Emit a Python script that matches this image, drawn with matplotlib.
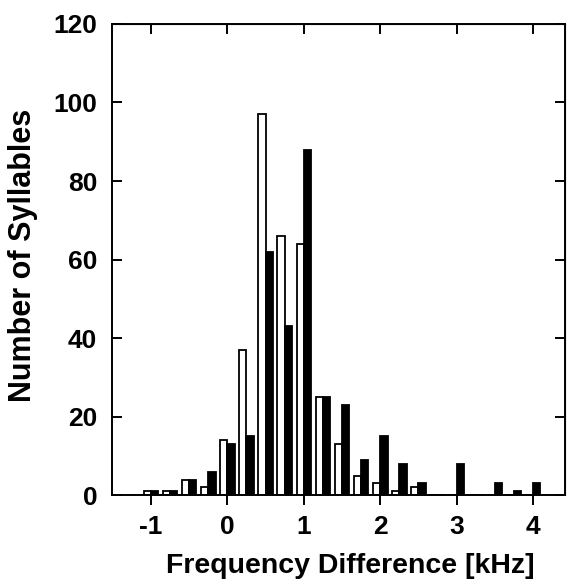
import matplotlib
matplotlib.use("Agg")
import matplotlib.pyplot as plt
import numpy as np

bins = [-1.0, -0.75, -0.5, -0.25, 0.0, 0.25, 0.5, 0.75, 1.0, 1.25, 1.5, 1.75,
        2.0, 2.25, 2.5, 2.75, 3.0, 3.25, 3.5, 3.75, 4.0]
white_counts = [1, 1, 4, 2, 14, 37, 97, 66, 64, 25, 13, 5, 3, 1, 2, 0, 0, 0, 0, 0, 0]
black_counts = [1, 1, 4, 6, 13, 15, 62, 43, 88, 25, 23, 9, 15, 8, 3, 0, 8, 0, 3, 1, 3]
xticks = [-1, 0, 1, 2, 3, 4]
yticks = [0, 20, 40, 60, 80, 100, 120]

plt.rcParams['font.family'] = ['Liberation Sans', 'DejaVu Sans']
plt.rcParams['font.weight'] = 'bold'

fig = plt.figure(figsize=(5.71, 5.84), dpi=100)
ax = fig.add_axes([0.196, 0.152, 0.794, 0.807])

x = np.array(bins)
w = 0.095
ax.bar(x - w / 2, white_counts, width=w, color='white', edgecolor='black', linewidth=1.3)
ax.bar(x + w / 2, black_counts, width=w, color='black', edgecolor='black', linewidth=1.3)

ax.set_xlim(-1.51, 4.42)
ax.set_ylim(0, 120)
ax.set_xticks(xticks)
ax.set_xticklabels(['-1', '0', '1', '2', '3', '4'])
ax.set_yticks(yticks)

for s in ax.spines.values():
    s.set_linewidth(1.4)

ax.tick_params(axis='x', bottom=True, top=False, direction='out', length=7, width=1.4,
               labelsize=19, pad=7.5)
ax.tick_params(axis='y', left=True, right=False, direction='in', length=7, width=1.4,
               labelsize=19, pad=10.5)
# inward ticks on top and right
ax2 = ax.secondary_xaxis('top')
ax2.set_xticks(xticks)
ax2.tick_params(axis='x', direction='in', length=7, width=1.4, labeltop=False)
ax3 = ax.secondary_yaxis('right')
ax3.set_yticks(yticks)
ax3.tick_params(axis='y', direction='in', length=7, width=1.4, labelright=False)

for lab in ax.get_xticklabels() + ax.get_yticklabels():
    lab.set_fontweight('bold')

ax.set_xlabel('Frequency Difference [kHz]', fontsize=20.5, fontweight='bold', va='baseline')
ax.xaxis.set_label_coords(0.525, -0.1656)
ax.set_ylabel('Number of Syllables', fontsize=22, fontweight='bold', va='center')
ax.yaxis.set_label_coords(-0.197, 0.51)

fig.savefig('out.png', dpi=100)
